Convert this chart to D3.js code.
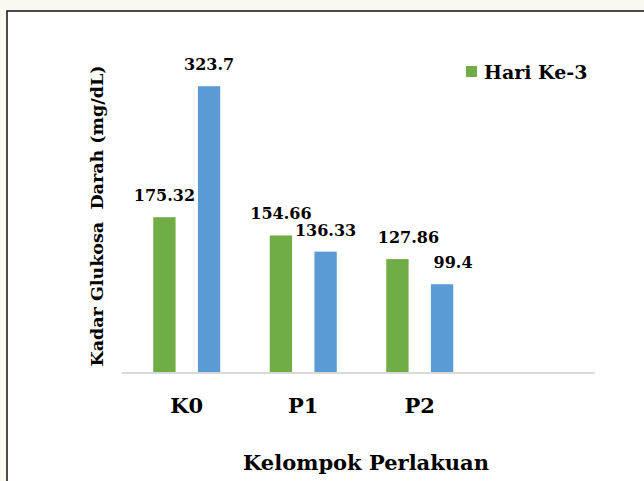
<!DOCTYPE html>
<html>
<head>
<meta charset="utf-8">
<script src="https://cdn.jsdelivr.net/npm/d3@7"></script>
<style>
  html, body { margin: 0; padding: 0; background: #f9f9f2; }
  svg { display: block; }
</style>
</head>
<body>
<svg id="chart" width="644" height="481"></svg>
<script>
// chart data
const categories = ['K0', 'P1', 'P2', ''];
const seriesNames = ['Hari Ke-3', 'Hari Ke-7'];
const hariKe3 = [175.32, 154.66, 127.86];
const hariKe7 = [323.7, 136.33, 99.4];
const valueLabels = [['175.32', '323.7'], ['154.66', '136.33'], ['127.86', '99.4']];
const colors = ['#70ad47', '#5b9bd5'];
// small label shifts seen in the original (P2 labels sit right of their bars)
const labelNudge = [0, 0, 11];

const serif = '"DejaVu Serif", "Liberation Serif", serif';

const svg = d3.select('#chart');

// white chart area with black frame (cut off at right and bottom)
svg.append('rect')
  .attr('x', 7).attr('y', 11)
  .attr('width', 660).attr('height', 490)
  .attr('fill', '#fff')
  .attr('stroke', '#111')
  .attr('stroke-width', 1.5);

const x = d3.scaleBand()
  .domain(categories)
  .range([128.5, 594.5]);

const inner = d3.scaleBand()
  .domain(seriesNames)
  .range([-33.5, 33.5])
  .paddingInner(0.5);

const y = d3.scaleLinear()
  .domain([0, 350])
  .range([372, 63]);

const rows = categories.slice(0, 3).map((c, i) => ({
  cat: c,
  idx: i,
  vals: [hariKe3[i], hariKe7[i]]
}));

const groups = svg.selectAll('g.grp')
  .data(rows)
  .enter()
  .append('g')
  .attr('class', 'grp')
  .attr('transform', d => `translate(${x(d.cat) + x.bandwidth() / 2},0)`);

groups.selectAll('rect')
  .data(d => d.vals.map((v, j) => ({ v, j, s: seriesNames[j] })))
  .enter()
  .append('rect')
  .attr('x', d => inner(d.s))
  .attr('y', d => y(d.v))
  .attr('width', inner.bandwidth())
  .attr('height', d => y(0) - y(d.v))
  .attr('fill', d => colors[d.j]);

groups.selectAll('text.val')
  .data(d => d.vals.map((v, j) => ({ v, j, s: seriesNames[j], lab: valueLabels[d.idx][j], nudge: labelNudge[d.idx] })))
  .enter()
  .append('text')
  .attr('class', 'val')
  .attr('x', d => inner(d.s) + inner.bandwidth() / 2 + d.nudge)
  .attr('y', d => y(d.v) - 16)
  .attr('text-anchor', 'middle')
  .attr('font-family', serif)
  .attr('font-weight', 'bold')
  .attr('font-size', 16)
  .text(d => d.lab);

// baseline
svg.append('line')
  .attr('x1', 122).attr('x2', 595)
  .attr('y1', y(0) + 1).attr('y2', y(0) + 1)
  .attr('stroke', '#d9d9d9')
  .attr('stroke-width', 2);

// category labels
const xAxis = d3.axisBottom(x).tickSize(0).tickPadding(0);
const gx = svg.append('g')
  .attr('transform', `translate(0,${y(0)})`)
  .call(xAxis)
  .attr('font-family', serif)
  .attr('font-weight', 'bold')
  .attr('font-size', 21);
gx.select('.domain').remove();
gx.selectAll('text')
  .attr('dy', null)
  .attr('y', 41)
  .attr('fill', '#000');

// axis titles
svg.append('text')
  .attr('x', 366).attr('y', 470)
  .attr('text-anchor', 'middle')
  .attr('font-family', serif)
  .attr('font-weight', 'bold')
  .attr('font-size', 21)
  .text('Kelompok Perlakuan');

svg.append('text')
  .attr('transform', 'translate(103,216) rotate(-90)')
  .attr('text-anchor', 'middle')
  .attr('font-family', serif)
  .attr('font-weight', 'bold')
  .attr('font-size', 17.5)
  .style('white-space', 'pre')
  .text('Kadar Glukosa  Darah (mg/dL)');

// legend (only first series shown)
const legend = svg.append('g').attr('transform', 'translate(466,66)');
legend.append('rect')
  .attr('width', 11).attr('height', 11)
  .attr('fill', colors[0]);
legend.append('text')
  .attr('x', 18).attr('y', 13)
  .attr('font-family', serif)
  .attr('font-weight', 'bold')
  .attr('font-size', 19)
  .text(seriesNames[0]);
</script>
</body>
</html>
